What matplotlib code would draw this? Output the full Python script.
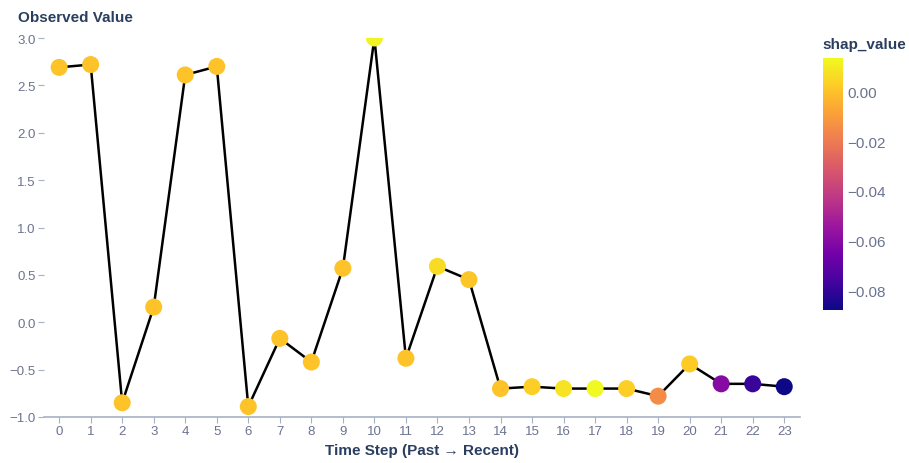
import matplotlib
matplotlib.use("Agg")
import matplotlib.pyplot as plt
from matplotlib.colors import LinearSegmentedColormap, Normalize

plt.rcParams['font.family'] = ['Liberation Sans', 'DejaVu Sans']

time_steps = list(range(24))
observed = [2.69, 2.72, -0.85, 0.16, 2.61, 2.70, -0.89, -0.17, -0.42, 0.57,
            3.00, -0.38, 0.59, 0.45, -0.70, -0.68, -0.70, -0.70, -0.70, -0.78,
            -0.44, -0.65, -0.65, -0.68]
shap_value = [0.000, 0.000, 0.000, 0.000, 0.000, 0.000, 0.000, 0.000, 0.000, 0.000,
              0.012, 0.000, 0.006, 0.001, 0.000, 0.003, 0.008, 0.013, 0.003, -0.015,
              0.002, -0.060, -0.079, -0.0877]
cbar_ticks = [0.00, -0.02, -0.04, -0.06, -0.08]
y_ticks = [3.0, 2.5, 2.0, 1.5, 1.0, 0.5, 0.0, -0.5, -1.0]

plasma = LinearSegmentedColormap.from_list(
    "plasma_px",
    ["#0d0887", "#46039f", "#7201a8", "#9c179e", "#bd3786",
     "#d8576b", "#ed7953", "#fb9f3a", "#fdca26", "#f0f921"])
norm = Normalize(vmin=-0.0877, vmax=0.0133)

title_col = "#2a3f5f"
tick_col = "#6b7390"
axis_col = "#a8b0c4"

fig = plt.figure(figsize=(9.09, 4.64), dpi=100)
ax = fig.add_axes([44/909, 1-418/464, (800-44)/909, (418-39)/464])

ax.plot(time_steps, observed, color="black", lw=1.8, zorder=2)
ax.scatter(time_steps, observed, c=shap_value, cmap=plasma, norm=norm,
           s=150, linewidths=0, zorder=3)

ax.set_xlim(-0.48, 23.5)
ax.set_ylim(-1.0, 3.0)
ax.set_xticks(time_steps)
ax.set_yticks(y_ticks)
ax.set_yticklabels([f"{v:.1f}".replace("-", "\u2212") for v in y_ticks])

for s in ["top", "right", "left"]:
    ax.spines[s].set_visible(False)
ax.spines["bottom"].set_color(axis_col)
ax.spines["bottom"].set_linewidth(1.2)
ax.tick_params(axis="both", colors=axis_col, labelcolor=tick_col,
               labelsize=9.5, length=4, width=0.8, pad=2)

ax.set_xlabel("Time Step (Past \u2192 Recent)", fontsize=11, fontweight="bold",
              color=title_col, labelpad=4)
fig.text(18/909, 1-18/464, "Observed Value", fontsize=11, fontweight="bold",
         color=title_col, ha="left", va="center")

# colour bar for the SHAP values
cax = fig.add_axes([823/909, 1-311/464, 20/909, (311-59)/464])
cb = fig.colorbar(plt.cm.ScalarMappable(norm=norm, cmap=plasma), cax=cax)
cb.set_ticks(cbar_ticks)
cb.set_ticklabels([f"{v:.2f}".replace("-", "\u2212") for v in cbar_ticks])
cb.outline.set_visible(False)
cax.tick_params(length=0, labelsize=11, labelcolor=tick_col, pad=3)
fig.text(822/909, 1-45/464, "shap_value", fontsize=11, fontweight="bold",
         color=title_col, ha="left", va="center")

fig.savefig("out.png", dpi=100)
